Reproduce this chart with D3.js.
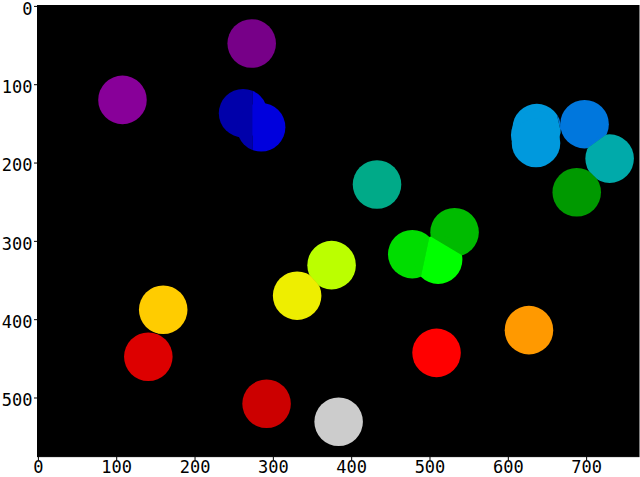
<!DOCTYPE html>
<html>
<head>
<meta charset="utf-8">
<script src="https://cdn.jsdelivr.net/npm/d3@7"></script>
<style>
html,body{margin:0;padding:0;background:#fff;}
svg{display:block;}
text{font-family:"DejaVu Sans Mono",monospace;}
</style>
</head>
<body>
<div id="chart"></div>
<script>
// ---- data (image pixel coordinates, label image 768 x 576) ----
const imageWidth = 768;
const imageHeight = 576;
const labels   = [1,2,3,4,5,6,7,8,9,10,11,12,13,14,15,16,17,18,19,20];
// disc centres per label (a label may contain more than one disc)
const discX    = [[273],[108],[262],[285],[698],[637,635,636],[730],[433],[688],[532],[478],[511],[375],[331],[160],[627],[509],[141],[292],[384]];
const discY    = [[48],[120],[137],[155],[151],[156,165,175],[195],[228],[238],[289],[317],[324],[331],[370],[388],[414],[443],[448],[508],[531]];
const discR    = 31;
// watershed markers (seed points) per label
const markerX  = [273,108,262,286,698,636,730,433,688,532,478,511,375,331,160,627,509,141,292,384];
const markerY  = [48,120,146,146,151,165,195,228,238,289,317,324,331,370,388,414,443,448,508,531];
const xTicks   = [0,100,200,300,400,500,600,700];
const yTicks   = [0,100,200,300,400,500];

// nipy_spectral colormap stops
const cmapStops = d3.range(0,1.0001,0.05);
const cmapColors = ["#000000","#770088","#880099","#0000aa","#0000dd","#0077dd","#0099dd","#00aaaa","#00aa88","#009900",
                    "#00bb00","#00dd00","#00ff00","#bbff00","#eeee00","#ffcc00","#ff9900","#ff0000","#dd0000","#cc0000","#cccccc"];

(function(){
const W = 640, H = 477;
const axL = 37.5, axR = 639, axT = 5.5;
const x = d3.scaleLinear().domain([-0.5, imageWidth - 0.5]).range([axL, axR]);
const k = (axR-axL)/imageWidth;
const axB = axT + imageHeight*k;
const y = d3.scaleLinear().domain([-0.5, imageHeight - 0.5]).range([axT, axB]);
const cmap = d3.scaleLinear().domain(cmapStops).range(cmapColors).interpolate(d3.interpolateRgb).clamp(true);
const maxLabel = d3.max(labels);

const svg = d3.select("#chart").append("svg").attr("width", W).attr("height", H);
svg.append("rect").attr("width",W).attr("height",H).attr("fill","#fff");
svg.append("rect").attr("x",axL).attr("y",axT).attr("width",axR-axL).attr("height",axB-axT).attr("fill",cmap(0));

// all discs with owner label
const discs = [];
labels.forEach((l,i)=>discX[i].forEach((cx,j)=>discs.push({i, cx, cy:discY[i][j]})));
// connected components of overlapping discs (union-find over labels)
const parent = labels.map((_,i)=>i);
const find = a => parent[a]===a ? a : (parent[a]=find(parent[a]));
discs.forEach(a=>discs.forEach(b=>{
  if (a.i!==b.i && Math.hypot(a.cx-b.cx, a.cy-b.cy) < 2*discR) parent[find(a.i)] = find(b.i);
}));

const pts = labels.map((l,i)=>[x(markerX[i]), y(markerY[i])]);
const vor = d3.Delaunay.from(pts).voronoi([axL, axT, axR, axB]);
const defs = svg.append("defs");
defs.append("clipPath").attr("id","axclip").append("rect")
  .attr("x",axL).attr("y",axT).attr("width",axR-axL).attr("height",axB-axT);

const gImg = svg.append("g").attr("clip-path","url(#axclip)");
labels.forEach((l,i)=>{
  defs.append("clipPath").attr("id","cell"+l).append("path").attr("d", vor.renderCell(i));
  const g = gImg.append("g").attr("clip-path","url(#cell"+l+")");
  const col = cmap(l/maxLabel);
  discs.filter(d=>find(d.i)===find(i)).forEach(d=>{
    g.append("circle").attr("cx",x(d.cx)).attr("cy",y(d.cy))
      .attr("r", discR*k).attr("fill", col);
  });
});

// axes
const xAxis = d3.axisBottom(x).tickValues(xTicks).tickSize(3.5).tickPadding(1);
const yAxis = d3.axisLeft(y).tickValues(yTicks).tickSize(3.5).tickPadding(1.5);
const gx = svg.append("g").attr("transform",`translate(0,${axB})`).call(xAxis);
const gy = svg.append("g").attr("transform",`translate(${axL},0)`).call(yAxis);
[gx,gy].forEach(g=>{
  g.select(".domain").remove();
  g.selectAll(".tick line").attr("stroke","#000").attr("stroke-width",1);
  g.selectAll(".tick text").attr("fill","#000").style("font-size","17px").style("font-family","'DejaVu Sans Mono', monospace");
});
gy.selectAll(".tick text").attr("dy","0.48em");
svg.append("rect").attr("x",axL).attr("y",axT).attr("width",axR-axL).attr("height",axB-axT)
  .attr("fill","none").attr("stroke","#000").attr("stroke-width",1);
})();
</script>
</body>
</html>
